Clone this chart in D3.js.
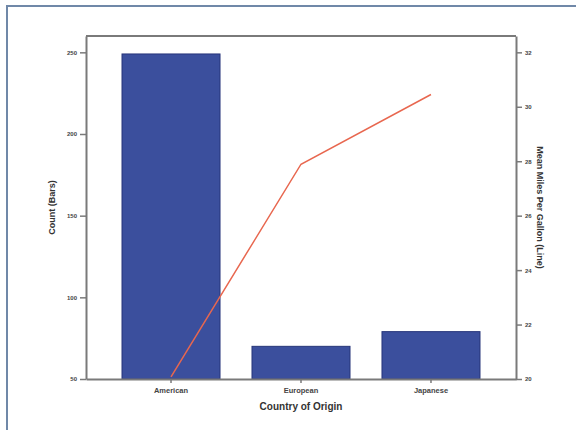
<!DOCTYPE html>
<html>
<head>
<meta charset="utf-8">
<script src="https://cdn.jsdelivr.net/npm/d3@7"></script>
<style>
  body { margin: 0; background: #fff; }
  svg { display: block; font-family: "Liberation Sans", Arial, sans-serif; }
</style>
</head>
<body>
<div id="chart"></div>
<script>
// data
const countries = ["American", "European", "Japanese"];
const counts = [249, 70, 79];
const meanMpg = [20.08, 27.89, 30.45];
const countTicks = [50, 100, 150, 200, 250];
const mpgTicks = [20, 22, 24, 26, 28, 30, 32];

// set dimensions
const width = 576,
    height = 430,
    margin = { top: 36, right: 60, bottom: 51, left: 86 };

const svg = d3.select("#chart")
    .append("svg")
    .attr("width", width)
    .attr("height", height);

// outer frame (top and left edges only visible)
svg.append("path")
    .attr("d", `M7,${height} V6 H${width}`)
    .attr("fill", "none")
    .attr("stroke", "#7088a8")
    .attr("stroke-width", 2);

const x = d3.scaleBand()
    .domain(countries)
    .range([margin.left, width - margin.right])
    .paddingInner(0.246)
    .paddingOuter(0.277);

const yCount = d3.scaleLinear()
    .domain([50, 260])
    .range([height - margin.bottom, margin.top]);

const yMpg = d3.scaleLinear()
    .domain([20, 32.6])
    .range([height - margin.bottom, margin.top]);

// bars
svg.selectAll(".bar")
    .data(countries)
    .enter()
    .append("rect")
    .attr("class", "bar")
    .attr("x", d => x(d))
    .attr("y", (d, i) => yCount(counts[i]))
    .attr("width", x.bandwidth())
    .attr("height", (d, i) => yCount(50) - yCount(counts[i]))
    .attr("fill", "#3b4f9d")
    .attr("stroke", "#27357a")
    .attr("stroke-width", 1);

// line
const line = d3.line()
    .x((d, i) => x(countries[i]) + x.bandwidth() / 2)
    .y(d => yMpg(d));

svg.append("path")
    .datum(meanMpg)
    .attr("d", line)
    .attr("fill", "none")
    .attr("stroke", "#e8674f")
    .attr("stroke-width", 1.5);

// axes
const axisColor = "#7a7a7a";
const styleAxis = g => {
    g.select(".domain").attr("stroke", axisColor).attr("stroke-width", 2);
    g.selectAll(".tick line").attr("stroke", axisColor).attr("stroke-width", 1.5);
    g.selectAll(".tick text").attr("fill", "#444").attr("font-weight", "bold");
};

svg.append("g")
    .attr("transform", `translate(${margin.left},0)`)
    .call(d3.axisLeft(yCount).tickValues(countTicks).tickSize(6).tickSizeOuter(0))
    .call(styleAxis)
    .selectAll(".tick text").attr("font-size", 6);

svg.append("g")
    .attr("transform", `translate(${width - margin.right},0)`)
    .call(d3.axisRight(yMpg).tickValues(mpgTicks).tickSize(6).tickSizeOuter(0))
    .call(styleAxis)
    .selectAll(".tick text").attr("font-size", 6);

svg.append("g")
    .attr("transform", `translate(0,${height - margin.bottom})`)
    .call(d3.axisBottom(x).tickSize(4).tickSizeOuter(0))
    .call(styleAxis)
    .call(g => g.selectAll(".tick text").attr("font-size", 7.5).attr("dy", "0.9em"));

// top frame line
svg.append("line")
    .attr("x1", margin.left)
    .attr("x2", width - margin.right)
    .attr("y1", margin.top)
    .attr("y2", margin.top)
    .attr("stroke", axisColor)
    .attr("stroke-width", 2);

// axis titles
const midY = (margin.top + height - margin.bottom) / 2;

svg.append("text")
    .attr("transform", `translate(55,${midY}) rotate(-90)`)
    .attr("text-anchor", "middle")
    .attr("font-size", 9)
    .attr("font-weight", "bold")
    .attr("fill", "#333")
    .text("Count (Bars)");

svg.append("text")
    .attr("transform", `translate(537,${midY}) rotate(90)`)
    .attr("text-anchor", "middle")
    .attr("font-size", 9)
    .attr("font-weight", "bold")
    .attr("fill", "#333")
    .text("Mean Miles Per Gallon (Line)");

svg.append("text")
    .attr("x", (margin.left + width - margin.right) / 2)
    .attr("y", 410)
    .attr("text-anchor", "middle")
    .attr("font-size", 10)
    .attr("font-weight", "bold")
    .attr("fill", "#333")
    .text("Country of Origin");
</script>
</body>
</html>
